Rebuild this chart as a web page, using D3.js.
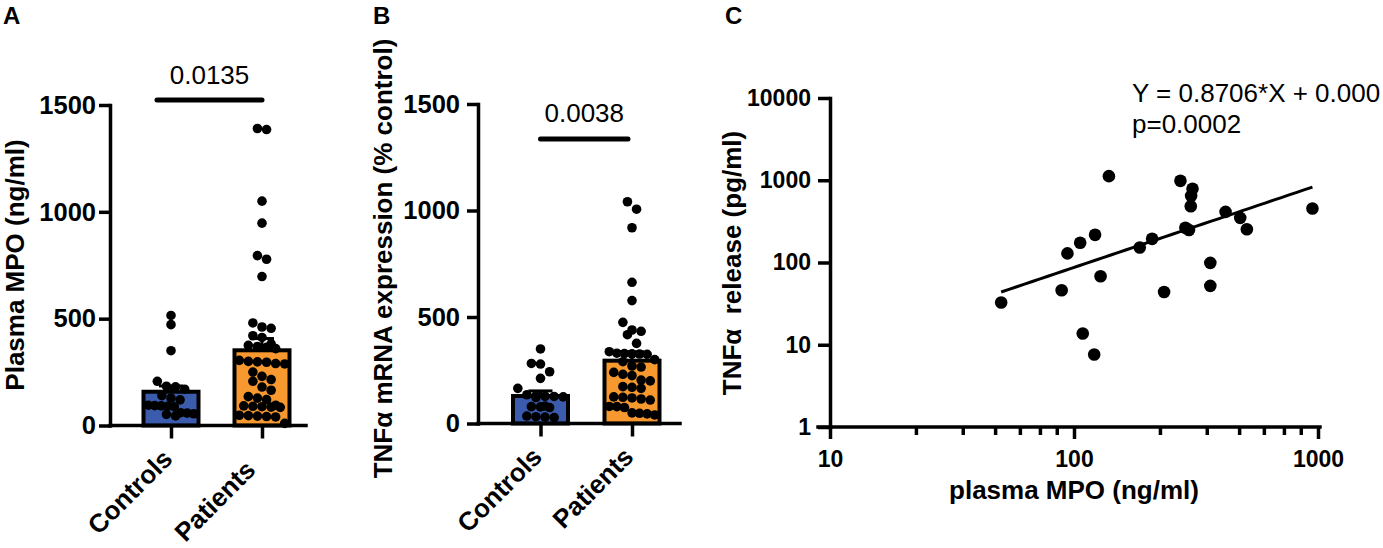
<!DOCTYPE html>
<html>
<head>
<meta charset="utf-8">
<script src="https://cdn.jsdelivr.net/npm/d3@7"></script>
<style>
  html, body { margin: 0; padding: 0; background: #ffffff; }
  svg { display: block; }
  text { font-family: "Liberation Sans", Arial, Helvetica, sans-serif; fill: #000; }
</style>
</head>
<body>
<svg id="chart" width="1383" height="548"></svg>
<script>
// ---------------- DATA ----------------
const categories = ["Controls", "Patients"];
const barTicks = [0, 500, 1000, 1500];

// Panel A: Plasma MPO (ng/ml)
const mpoControls = [515, 472, 350, 207, 184, 181, 170, 140, 128, 120, 95, 93, 92, 90, 88, 60, 58, 55, 52, 45];
const mpoPatients = [1390, 1385, 1050, 947, 795, 778, 697, 480, 461, 455, 420, 412, 382, 375, 370, 366, 360,
                     305, 300, 298, 296, 290, 288, 250, 230, 215, 207, 180, 165, 135, 128, 121,
                     95, 92, 90, 88, 86, 85, 48, 46, 44, 42, 40, 10];
const mpoMeans = [158, 352];
const mpoSems = [27, 55];
const mpoPValue = "0.0135";
const mpoSigLevel = 1523;

// Panel B: TNFα mRNA expression (% control)
const tnfControls = [350, 282, 279, 243, 212, 165, 135, 130, 128, 127, 125, 122, 82, 79, 78, 75, 35, 32, 30, 28];
const tnfPatients = [1041, 1006, 919, 663, 577, 475, 439, 433, 417, 376, 337, 330, 328, 327, 326, 325,
                     300, 290, 270, 265, 240, 231, 225, 204, 200, 173, 170, 165, 125, 123, 120, 115, 110,
                     80, 79, 75, 50, 48, 45, 40];
const tnfMeans = [129, 295];
const tnfSems = [24, 42];
const tnfPValue = "0.0038";
const tnfSigLevel = 1336;

// Panel C: scatter, plasma MPO vs TNFα release
const scatterMPO = [50.3, 89, 94, 106, 122, 128.5, 108.6, 121, 139, 186, 209, 234, 273, 306, 302, 301, 286, 296, 362, 362, 418, 480, 511, 949];
const scatterTNF = [32.7, 46, 129, 174, 217, 68, 13.7, 7.6, 1122, 152, 194, 43.7, 984, 787, 646, 484, 264, 248, 99, 52, 413, 349, 254, 454];
const fitSlope = 0.8706;
const fitIntercept = 0.000;
const equationText = "Y = 0.8706*X + 0.000";
const pText = "p=0.0002";
const scatterXTicks = [10, 100, 1000];
const scatterYTicks = [1, 10, 100, 1000, 10000];
const scatterMinorFactors = [2.25, 3.5, 4.75, 6, 7.25, 8.5];

// ---------------- STYLE ----------------
const FONT = '"Liberation Sans", Arial, Helvetica, sans-serif';
const colors = { Controls: "#3b5cad", Patients: "#f7992e" };
const AXIS_W = 3.5;

const svg = d3.select("#chart");
svg.append("rect").attr("width", 1383).attr("height", 548).attr("fill", "#fff");

function styleAxis(g, fontSize) {
  g.select(".domain").attr("stroke", "#000").attr("stroke-width", AXIS_W).attr("stroke-linecap", "square");
  g.selectAll(".tick line").attr("stroke", "#000").attr("stroke-width", AXIS_W);
  g.selectAll(".tick text").attr("font-family", FONT).attr("font-weight", "bold")
    .attr("font-size", fontSize).attr("fill", "#000");
}

// row-based swarm layout (Prism style), computed from values
function swarm(values, yScale, cx, r, maxHalf) {
  const sorted = values.slice().sort((a, b) => b - a);
  const rows = [];
  let cur = null;
  sorted.forEach(v => {
    const y = yScale(v);
    if (!cur || y - cur.y0 > 2 * r * 0.95) { cur = { y0: y, pts: [] }; rows.push(cur); }
    cur.pts.push({ v, y });
  });
  const out = [];
  rows.forEach(row => {
    const n = row.pts.length;
    const sp = n > 1 ? Math.min(2 * r * 0.95, (2 * maxHalf) / (n - 1)) : 0;
    row.pts.forEach((p, i) => out.push({ v: p.v, x: cx + (i - (n - 1) / 2) * sp, y: p.y }));
  });
  return out;
}

// ---------------- BAR PANELS ----------------
const barPanels = [
  { letter: "A", letterX: 3, groups: [mpoControls, mpoPatients], means: mpoMeans, sems: mpoSems,
    axisX: 110, yBottom: 425.5, yTop: 105, centers: [171, 262], xEnd: 306,
    title: "Plasma MPO (ng/ml)", titleX: 23.5, titleY: 265, pval: mpoPValue, sig: mpoSigLevel,
    sigDx: [-14, 0], tickPad: 3, labelNudge: [[0, 0], [-8, 11]] },
  { letter: "B", letterX: 373, groups: [tnfControls, tnfPatients], means: tnfMeans, sems: tnfSems,
    axisX: 478, yBottom: 423.5, yTop: 104, centers: [540.5, 632], xEnd: 680,
    title: "TNFα mRNA expression (% control)", titleX: 391.5, titleY: 258.5, pval: tnfPValue, sig: tnfSigLevel,
    sigDx: [0, -4], tickPad: 7, labelNudge: [[0, 0], [0, 0]] }
];

barPanels.forEach(P => {
  const g = svg.append("g");
  const y = d3.scaleLinear().domain([0, 1500]).range([P.yBottom, P.yTop]);
  const x = d3.scaleOrdinal().domain(categories).range(P.centers);
  const barW = 55, dotR = 4.8;

  g.append("text").attr("x", P.letterX).attr("y", 24).attr("font-size", 24).attr("font-weight", "bold").text(P.letter);

  const ya = g.append("g").attr("transform", `translate(${P.axisX},0)`)
    .call(d3.axisLeft(y).tickValues(barTicks).tickFormat(d3.format("d")).tickSize(11).tickPadding(P.tickPad).tickSizeOuter(0));
  styleAxis(ya, 25.5);

  g.append("text").attr("transform", `translate(${P.titleX},${P.titleY}) rotate(-90)`)
    .attr("text-anchor", "middle").attr("font-size", 26).attr("font-weight", "bold").text(P.title);

  categories.forEach((c, i) => {
    const cx = x(c);
    g.append("rect").attr("x", cx - barW / 2).attr("y", y(P.means[i]))
      .attr("width", barW).attr("height", y(0) - y(P.means[i]))
      .attr("fill", colors[c]).attr("stroke", "#000").attr("stroke-width", 4);
    g.append("line").attr("x1", cx).attr("x2", cx).attr("y1", y(P.means[i])).attr("y2", y(P.means[i] + P.sems[i]))
      .attr("stroke", "#000").attr("stroke-width", 3);
    g.append("line").attr("x1", cx - 12).attr("x2", cx + 12)
      .attr("y1", y(P.means[i] + P.sems[i])).attr("y2", y(P.means[i] + P.sems[i]))
      .attr("stroke", "#000").attr("stroke-width", 3);
  });

  categories.forEach((c, i) => {
    const pts = swarm(P.groups[i], y, x(c), dotR, barW / 2 - dotR);
    g.selectAll(null).data(pts).enter().append("circle")
      .attr("cx", d => d.x).attr("cy", d => d.y).attr("r", dotR).attr("fill", "#000");
  });

  const xa = g.append("g").attr("transform", `translate(0,${P.yBottom})`)
    .call(d3.axisBottom(x).tickSize(13).tickSizeOuter(0).tickFormat(""));
  xa.select(".domain").attr("d", `M${P.axisX},0H${P.xEnd}`);
  styleAxis(xa, 26);
  xa.selectAll(".tick line").attr("stroke-linecap", "butt");
  categories.forEach((c, i) => {
    const px = x(c) + 3 + P.labelNudge[i][0];
    const py = P.yBottom + 35 + P.labelNudge[i][1];
    g.append("text").attr("transform", `translate(${px},${py}) rotate(-45)`)
      .attr("text-anchor", "end").attr("font-size", 26).attr("font-weight", "bold").text(c);
  });

  const sx0 = x(categories[0]) + P.sigDx[0], sx1 = x(categories[1]) + P.sigDx[1];
  g.append("line").attr("x1", sx0).attr("x2", sx1).attr("y1", y(P.sig)).attr("y2", y(P.sig))
    .attr("stroke", "#000").attr("stroke-width", 5).attr("stroke-linecap", "round");
  g.append("text").attr("x", (sx0 + sx1) / 2).attr("y", y(P.sig) - 16.5)
    .attr("text-anchor", "middle").attr("font-size", 26).text(P.pval);
});

// ---------------- SCATTER PANEL C ----------------
(function () {
  const g = svg.append("g");
  const x = d3.scaleLog().domain([10, 1000]).range([830, 1318]);
  const y = d3.scaleLog().domain([1, 10000]).range([427, 98]);

  g.append("text").attr("x", 725).attr("y", 24).attr("font-size", 24).attr("font-weight", "bold").text("C");

  const ya = g.append("g").attr("transform", `translate(${x(10)},0)`)
    .call(d3.axisLeft(y).tickValues(scatterYTicks).tickFormat(d3.format("d")).tickSize(12).tickPadding(7).tickSizeOuter(0));
  styleAxis(ya, 23);

  const xa = g.append("g").attr("transform", `translate(0,${y(1)})`)
    .call(d3.axisBottom(x).tickValues(scatterXTicks).tickFormat(d3.format("d")).tickSize(12).tickPadding(12).tickSizeOuter(0));
  styleAxis(xa, 23);
  xa.select(".domain").attr("d", `M${x(10) - 12},0H${x(1000) + 2}`);
  const minor = [];
  [10, 100].forEach(dec => scatterMinorFactors.forEach(f => minor.push(dec * f)));
  g.append("g").attr("transform", `translate(0,${y(1)})`)
    .call(d3.axisBottom(x).tickValues(minor).tickFormat("").tickSize(8).tickSizeOuter(0))
    .call(a => { a.select(".domain").remove(); a.selectAll(".tick line").attr("stroke", "#000").attr("stroke-width", AXIS_W); });

  g.append("text").attr("transform", `translate(740.5,263) rotate(-90)`)
    .attr("text-anchor", "middle").attr("font-size", 26).attr("font-weight", "bold")
    .attr("xml:space", "preserve").style("white-space", "pre").text("TNFα  release (pg/ml)");
  g.append("text").attr("x", 1074).attr("y", 498.5).attr("text-anchor", "middle")
    .attr("font-size", 26).attr("font-weight", "bold").text("plasma MPO (ng/ml)");

  const [xmin, xmax] = d3.extent(scatterMPO);
  const fitPts = d3.range(0, 41).map(i => {
    const xv = Math.exp(Math.log(xmin) + (Math.log(xmax) - Math.log(xmin)) * i / 40);
    return [xv, fitSlope * xv + fitIntercept];
  });
  g.append("path").datum(fitPts)
    .attr("d", d3.line().x(d => x(d[0])).y(d => y(d[1])))
    .attr("fill", "none").attr("stroke", "#000").attr("stroke-width", 3);

  g.selectAll(null).data(scatterMPO.map((v, i) => [v, scatterTNF[i]])).enter().append("circle")
    .attr("cx", d => x(d[0])).attr("cy", d => y(d[1])).attr("r", 6.3).attr("fill", "#000");

  g.append("text").attr("x", 1132).attr("y", 101.5).attr("font-size", 26).text(equationText);
  g.append("text").attr("x", 1132).attr("y", 133).attr("font-size", 26).text(pText);
})();
</script>
</body>
</html>
